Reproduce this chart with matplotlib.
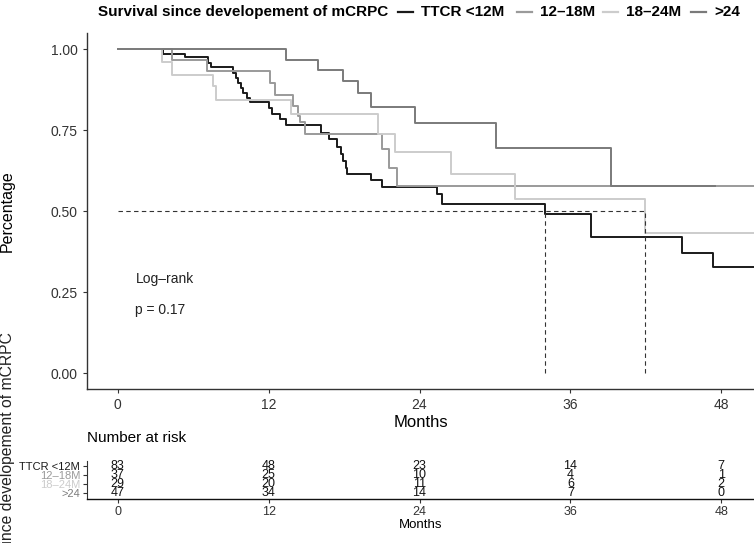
import matplotlib.pyplot as plt
from matplotlib.lines import Line2D

plt.rcParams['font.family'] = ['Liberation Sans', 'DejaVu Sans']

W, H = 754, 543

groups = ['TTCR <12M', '12\u201318M', '18\u201324M', '>24']
colors = ['#1a1a1a', '#9a9a9a', '#cccccc', '#7a7a7a']

# survival step points (month, survival)
t_lt12 = [0, 3.56, 5.33, 7.19, 7.4, 9.18, 9.39, 9.58, 9.77, 9.98, 10.25, 10.5,
          12.0, 12.3, 12.9, 13.4, 16.2, 16.8, 17.41, 17.73, 17.94, 18.15, 18.26,
          20.1, 21.0, 25.4, 25.8, 34.0, 37.6, 44.9, 47.3, 50.6]
s_lt12 = [1, 0.986, 0.975, 0.958, 0.945, 0.927, 0.912, 0.896, 0.881, 0.866, 0.850, 0.837,
          0.82, 0.80, 0.784, 0.766, 0.743, 0.723, 0.698, 0.677, 0.655, 0.634, 0.615,
          0.597, 0.575, 0.554, 0.524, 0.493, 0.421, 0.373, 0.327, 0.327]
t_12_18 = [0, 4.35, 7.06, 12.1, 12.5, 13.96, 14.3, 14.5, 14.9, 21.0, 21.6, 22.2, 50.6]
s_12_18 = [1, 0.968, 0.933, 0.897, 0.859, 0.825, 0.794, 0.777, 0.74, 0.692, 0.634, 0.577, 0.577]
t_18_24 = [0, 3.48, 4.35, 7.59, 7.78, 13.8, 20.7, 22.05, 26.5, 31.6, 41.9, 50.6]
s_18_24 = [1, 0.961, 0.922, 0.886, 0.843, 0.80, 0.74, 0.684, 0.616, 0.539, 0.432, 0.432]
t_gt24 = [0, 13.4, 15.9, 17.9, 19.1, 20.1, 23.6, 30.1, 39.2, 47.5]
s_gt24 = [1, 0.968, 0.935, 0.902, 0.866, 0.822, 0.771, 0.694, 0.579, 0.579]

curves = [(t_lt12, s_lt12), (t_12_18, s_12_18), (t_18_24, s_18_24), (t_gt24, s_gt24)]

medians = [34.0, 41.9]

risk_times = [0, 12, 24, 36, 48]
risk_lt12 = [83, 48, 23, 14, 7]
risk_12_18 = [37, 25, 10, 4, 1]
risk_18_24 = [29, 20, 11, 6, 2]
risk_gt24 = [47, 34, 14, 7, 0]
risk = [risk_lt12, risk_12_18, risk_18_24, risk_gt24]

fig = plt.figure(figsize=(W / 100, H / 100), dpi=100)

def box(l, t, r, b):
    return [l / W, 1 - b / H, (r - l) / W, (b - t) / H]

ax = fig.add_axes(box(87, 33, 754, 389))
for (t, s), c in zip(curves, colors):
    ax.step(t, s, where='post', color=c, lw=1.4)

ax.plot([0, max(medians)], [0.5, 0.5], ls=(0, (4, 3)), color='#333333', lw=0.8)
for m in medians:
    ax.plot([m, m], [0, 0.5], ls=(0, (4, 3)), color='#333333', lw=0.8)

ax.set_xlim(-2.45, 50.6)
ax.set_ylim(-0.048, 1.05)
ax.set_xticks(risk_times)
ax.set_yticks([0, 0.25, 0.5, 0.75, 1.0])
ax.set_yticklabels(['0.00', '0.25', '0.50', '0.75', '1.00'])
for side in ['top', 'right']:
    ax.spines[side].set_visible(False)
for side in ['left', 'bottom']:
    ax.spines[side].set_color('#333333')
    ax.spines[side].set_linewidth(1.0)
ax.tick_params(colors='#333333', labelsize=10, length=3, width=0.8, labelcolor='#333333')
ax.set_xlabel('Months', fontsize=12, labelpad=2)
ax.set_ylabel('Percentage', fontsize=11.5)
ax.yaxis.set_label_coords((15 - 87) / 667, 0.5)
ax.text(1.4, 0.29, 'Log\u2013rank', fontsize=10, va='center', color='#222222')
ax.text(1.4, 0.195, 'p = 0.17', fontsize=10, va='center', color='#222222')

# legend on top
ly = 1 - 12 / H
fig.text(98 / W, ly, 'Survival since developement of mCRPC', fontsize=11,
         fontweight='bold', va='center', ha='left')
leg_x = [398, 517, 603, 691]
for x0, g, c in zip(leg_x, groups, colors):
    fig.add_artist(Line2D([x0 / W, (x0 + 15) / W], [ly, ly], color=c, lw=1.6,
                          transform=fig.transFigure))
    fig.text((x0 + 23) / W, ly, g, fontsize=11, fontweight='bold',
             va='center', ha='left')

# risk table
rax = fig.add_axes(box(87, 461, 754, 499))
rows = [4, 3, 2, 1]
for y, vals in zip(rows, risk):
    for x, v in zip(risk_times, vals):
        rax.text(x, y, str(v), ha='center', va='center', fontsize=9,
                 color='#111111')
rax.set_xlim(-2.45, 50.6)
rax.set_ylim(0.33, 4.56)
rax.set_xticks(risk_times)
rax.set_yticks(rows)
rax.set_yticklabels(groups, fontsize=8)
for side in ['top', 'right']:
    rax.spines[side].set_visible(False)
rax.spines['left'].set_color('#333333')
rax.spines['bottom'].set_color('#111111')
rax.spines['bottom'].set_linewidth(1.0)
rax.tick_params(axis='x', labelsize=9, length=3, width=0.8, colors='#333333', pad=2)
rax.tick_params(axis='y', length=3, width=0.8, colors='#333333', pad=2)
for lab, c in zip(rax.get_yticklabels(), colors):
    lab.set_color(c)
rax.set_xlabel('Months', fontsize=9.5, labelpad=1)
rax.text(0, 1 + 16 / 38, 'Number at risk', transform=rax.transAxes, fontsize=11,
         ha='left', va='bottom')

fig.text(8 / W, 1 - 332 / H, 'Survival since developement of mCRPC', rotation=90,
         fontsize=11.3, ha='center', va='top', color='#222222')

fig.savefig('out.png', dpi=100)
